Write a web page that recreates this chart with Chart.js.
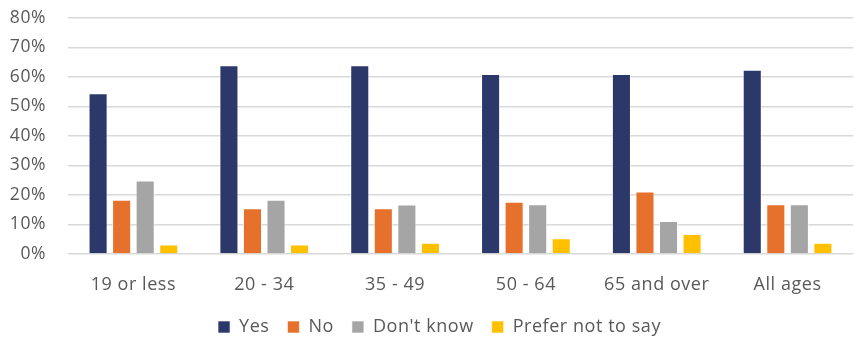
<!DOCTYPE html>
<html>
<head>
<meta charset="utf-8">
<script src="https://cdn.jsdelivr.net/npm/chart.js@4/dist/chart.umd.min.js"></script>
<style>
  html, body { margin: 0; padding: 0; background: #fff; }
  #wrap { width: 855px; height: 338px; }
</style>
</head>
<body>
<div id="wrap"><canvas id="chart" width="855" height="338"></canvas></div>
<script>
// ── Data ──────────────────────────────────────────────────────────
const categories = ["19 or less", "20 - 34", "35 - 49", "50 - 64", "65 and over", "All ages"];
const yesVals    = [54.5, 64.0, 64.0, 61.0, 61.0, 62.5];
const noVals     = [18.4, 15.5, 15.5, 17.7, 21.2, 16.9];
const dkVals     = [24.9, 18.4, 16.8, 16.9, 11.2, 16.9];
const pnsVals    = [3.2, 3.2, 3.8, 5.3, 6.8, 3.8];
const yTicks     = [0, 10, 20, 30, 40, 50, 60, 70, 80];

const seriesNames  = ["Yes", "No", "Don't know", "Prefer not to say"];
const seriesColors = ["#2C386A", "#E6712C", "#A5A5A5", "#FFC000"];

Chart.defaults.font.family = "'Open Sans', sans-serif";
Chart.defaults.color = "#595959";

const datasets = [yesVals, noVals, dkVals, pnsVals].map((vals, i) => ({
  label: seriesNames[i],
  data: vals,
  backgroundColor: seriesColors[i],
  borderColor: "rgba(255,255,255,0.6)",
  borderWidth: 1,
  categoryPercentage: 0.72,
  barPercentage: 0.81,
}));

// Office-style text is a bit wider; legend sits a little lower and right
const officeLook = {
  id: "officeLook",
  beforeInit(chart) {
    const fit = chart.legend.fit;
    chart.legend.fit = function () { fit.call(this); this.height = 38; };
  },
  beforeUpdate(chart)  { chart.ctx.letterSpacing = "0.55px"; },
  beforeRender(chart)  { chart.ctx.letterSpacing = "0.55px"; },
  afterLayout(chart)   { chart.legend.left += 26; },
};

new Chart(document.getElementById("chart"), {
  type: "bar",
  data: { labels: categories, datasets },
  plugins: [officeLook],
  options: {
    responsive: false,
    animation: false,
    layout: { padding: { top: 18, right: 2, bottom: 0, left: 0 } },
    plugins: {
      legend: {
        position: "bottom",
        labels: {
          boxWidth: 12, boxHeight: 12,
          padding: 18,
          font: { size: 18 },
          color: "#595959",
        },
      },
      tooltip: { enabled: false },
    },
    scales: {
      x: {
        afterFit: s => { s.height = 46; },
        grid: { display: false },
        border: { display: false },
        ticks: { font: { size: 18 }, color: "#595959", padding: 12 },
      },
      y: {
        min: 0, max: 80,
        afterFit: s => { s.width = 68; },
        afterBuildTicks: s => { s.ticks = yTicks.map(v => ({ value: v })); },
        grid: { color: "#D9D9D9", lineWidth: 1.5, drawTicks: true,
                tickLength: 20, tickColor: "transparent" },
        border: { display: false },
        ticks: { font: { size: 17.5 }, color: "#595959", padding: 2,
                 callback: v => `${v}%` },
      },
    },
  },
});
</script>
</body>
</html>
